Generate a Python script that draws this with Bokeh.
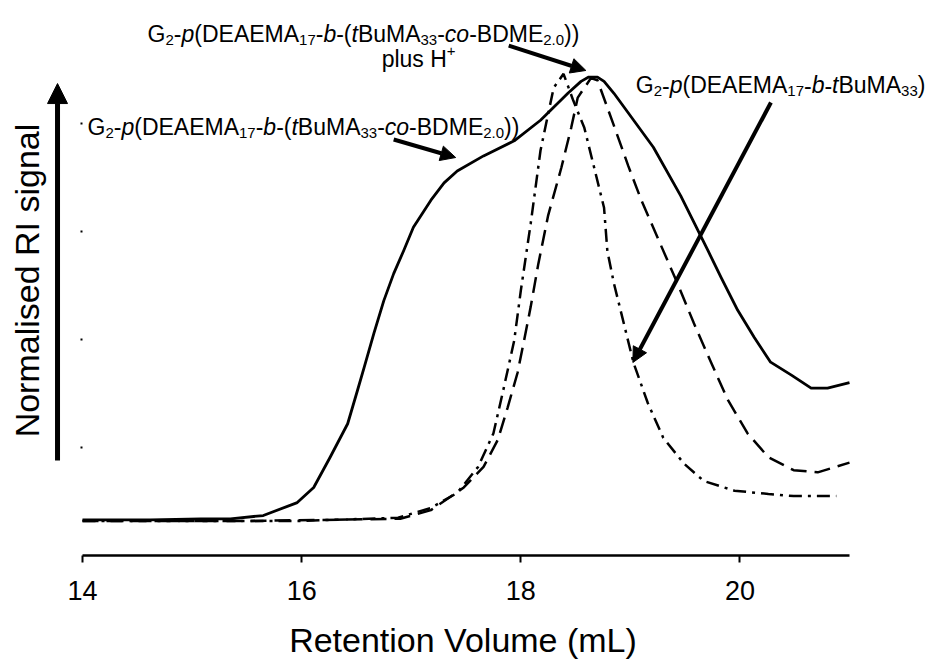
import math
from bokeh.plotting import figure
from bokeh.models import Range1d, FixedTicker, Arrow, NormalHead, ColumnDataSource
from bokeh.core.properties import value, field
from bokeh.embed import file_html
from bokeh.resources import INLINE

# ---------------- data (retention volume in mL, normalised RI signal) ----------------
vol_bdme = [14.00, 14.62, 15.08, 15.35, 15.65, 15.96, 16.11, 16.26, 16.42, 16.51, 16.57, 16.66,
            16.75, 16.84, 16.93, 17.02, 17.18, 17.30, 17.42, 17.66, 17.94, 18.18, 18.43, 18.55,
            18.62, 18.70, 18.76, 18.85, 19.03, 19.21, 19.46, 19.71, 19.83, 19.98, 20.13, 20.28,
            20.47, 20.65, 20.80, 21.00]
sig_bdme = [0.33, 0.33, 0.34, 0.34, 0.37, 0.49, 0.63, 0.91, 1.22, 1.53, 1.74, 2.06,
            2.36, 2.61, 2.82, 3.04, 3.29, 3.45, 3.56, 3.70, 3.84, 4.03, 4.28, 4.39,
            4.43, 4.43, 4.39, 4.28, 4.03, 3.78, 3.33, 2.82, 2.57, 2.27, 2.02, 1.79,
            1.67, 1.55, 1.55, 1.60]

vol_h = [14.00, 15.53, 16.90, 17.18, 17.48, 17.66, 17.79, 17.88, 17.97, 18.03, 18.09, 18.16,
         18.25, 18.37, 18.46, 18.52, 18.64, 18.70, 18.85, 18.98, 19.10, 19.28, 19.43, 19.58,
         19.74, 19.89, 20.07, 20.26, 20.49, 20.71, 21.00]
sig_h = [0.32, 0.32, 0.34, 0.42, 0.63, 0.82, 1.07, 1.37, 1.69, 1.99, 2.30, 2.70,
         3.15, 3.59, 3.96, 4.24, 4.42, 4.40, 3.98, 3.61, 3.29, 2.87, 2.52, 2.15,
         1.78, 1.44, 1.13, 0.91, 0.79, 0.77, 0.86]

vol_tbuma = [14.00, 15.99, 16.88, 17.18, 17.42, 17.61, 17.75, 17.84, 17.94, 18.00, 18.09, 18.18,
             18.25, 18.30, 18.39, 18.48, 18.58, 18.67, 18.76, 18.79, 18.85, 18.94, 19.03, 19.16,
             19.30, 19.49, 19.67, 19.95, 20.26, 20.49, 20.88]
sig_tbuma = [0.32, 0.32, 0.35, 0.44, 0.58, 0.82, 1.13, 1.53, 1.99, 2.45, 3.07, 3.75,
             4.09, 4.33, 4.46, 4.21, 3.96, 3.59, 3.22, 2.82, 2.52, 2.15, 1.78, 1.41,
             1.09, 0.85, 0.69, 0.60, 0.57, 0.55, 0.55]

x_ticks = [14, 16, 18, 20]
y_ticks = [1, 2, 3, 4]

FONT = "Liberation Sans"
MAIN = 23
SUB = 15

# Arial / Liberation Sans advance widths (per 1000 em)
W = {' ': 278, '(': 333, ')': 333, '-': 333, '.': 278, '+': 584,
     'A': 667, 'B': 667, 'C': 722, 'D': 722, 'E': 667, 'G': 778, 'H': 722, 'I': 278,
     'M': 833, 'R': 722, 'U': 722,
     'a': 556, 'b': 556, 'c': 500, 'e': 556, 'l': 222, 'o': 556, 'p': 556, 's': 500,
     't': 278, 'u': 556}
for d in "0123456789":
    W[d] = 556


def width(txt, size):
    return sum(W.get(ch, 556) for ch in txt) * size / 1000.0


rows = dict(x=[], y=[], text=[], dx=[], dy=[], fs=[], st=[])


def rich(x, y, parts):
    off = 0.0
    for txt, kind in parts:
        size = MAIN if kind in ("n", "i") else SUB
        dy = 0 if kind in ("n", "i") else (6 if kind == "sub" else -8)
        rows["x"].append(x)
        rows["y"].append(y)
        rows["text"].append(txt)
        rows["dx"].append(off)
        rows["dy"].append(dy)
        rows["fs"].append(f"{size}px")
        rows["st"].append("italic" if kind == "i" else "normal")
        off += width(txt, size)


long_name = [("G", "n"), ("2", "sub"), ("-", "n"), ("p", "i"), ("(DEAEMA", "n"), ("17", "sub"),
             ("-", "n"), ("b", "i"), ("-(", "n"), ("t", "i"), ("BuMA", "n"), ("33", "sub"),
             ("-", "n"), ("co", "i"), ("-BDME", "n"), ("2.0", "sub"), ("))", "n")]
short_name = [("G", "n"), ("2", "sub"), ("-", "n"), ("p", "i"), ("(DEAEMA", "n"), ("17", "sub"),
              ("-", "n"), ("b", "i"), ("-", "n"), ("t", "i"), ("BuMA", "n"), ("33", "sub"),
              (")", "n")]

rich(14.594, 4.833, long_name)
rich(16.73, 4.593, [("plus H", "n"), ("+", "sup")])
rich(14.046, 3.972, long_name)
rich(19.05, 4.352, short_name)

# ---------------- figure ----------------
p = figure(width=925, height=667, output_backend="svg", toolbar_location=None,
           x_range=Range1d(13.2516, 21.6937), y_range=Range1d(0, 5.139),
           min_border_left=0, min_border_right=0, min_border_top=0, min_border_bottom=112)
p.outline_line_color = None
p.xgrid.visible = False
p.ygrid.visible = False
p.background_fill_color = "white"
p.border_fill_color = "white"

xa = p.xaxis[0]
xa.bounds = (14, 21)
xa.ticker = FixedTicker(ticks=x_ticks, minor_ticks=[])
xa.axis_line_width = 2.5
xa.axis_line_color = "black"
xa.major_tick_line_width = 2
xa.major_tick_line_color = "black"
xa.major_tick_out = 7
xa.major_tick_in = 0
xa.minor_tick_out = 0
xa.minor_tick_in = 0
xa.major_label_text_font = FONT
xa.major_label_text_font_size = "27px"
xa.major_label_text_color = "black"
xa.major_label_standoff = 18
xa.axis_label = "Retention Volume (mL)"
xa.axis_label_text_font = FONT
xa.axis_label_text_font_size = "34px"
xa.axis_label_text_font_style = "normal"
xa.axis_label_text_color = "black"
xa.axis_label_standoff = 18

ya = p.yaxis[0]
ya.fixed_location = 14
ya.ticker = FixedTicker(ticks=y_ticks, minor_ticks=[])
ya.axis_line_color = None
ya.major_tick_out = 2
ya.major_tick_in = 0
ya.major_tick_line_width = 2
ya.major_tick_line_color = "black"
ya.minor_tick_out = 0
ya.minor_tick_in = 0
ya.major_label_overrides = {t: "" for t in y_ticks}
ya.major_label_text_font_size = "1px"

p.line(vol_bdme, sig_bdme, line_color="black", line_width=2.8, line_join="round")
p.line(vol_h, sig_h, line_color="black", line_width=2.5, line_dash="16 8")
p.line(vol_tbuma, sig_tbuma, line_color="black", line_width=2.5, line_dash="13 6 3 6")

src = ColumnDataSource(rows)
p.text(x="x", y="y", text="text", x_offset="dx", y_offset="dy", source=src,
       text_font=value(FONT), text_font_size=field("fs"), text_font_style=field("st"),
       text_color="black", text_align="left", text_baseline="alphabetic")

# y-axis title (rotated), placed left of the 14 mL edge
p.text(x=[13.498], y=[2.546], text=["Normalised RI signal"], angle=math.pi / 2,
       text_font=value(FONT), text_font_size="34px", text_color="black",
       text_align="center", text_baseline="middle")


def arrow(x0, y0, x1, y1, lw=4, size=15):
    p.add_layout(Arrow(end=NormalHead(size=size, fill_color="black", line_color="black", line_width=1),
                       x_start=x0, y_start=y0, x_end=x1, y_end=y1,
                       line_color="black", line_width=lw))


arrow(17.89, 4.722, 18.594, 4.491)
arrow(16.84, 3.852, 17.406, 3.685)
arrow(20.283, 4.194, 19.023, 1.787)
arrow(13.772, 0.88, 13.772, 4.37, lw=5, size=20)

open("out.html", "w").write(file_html(p, INLINE))
